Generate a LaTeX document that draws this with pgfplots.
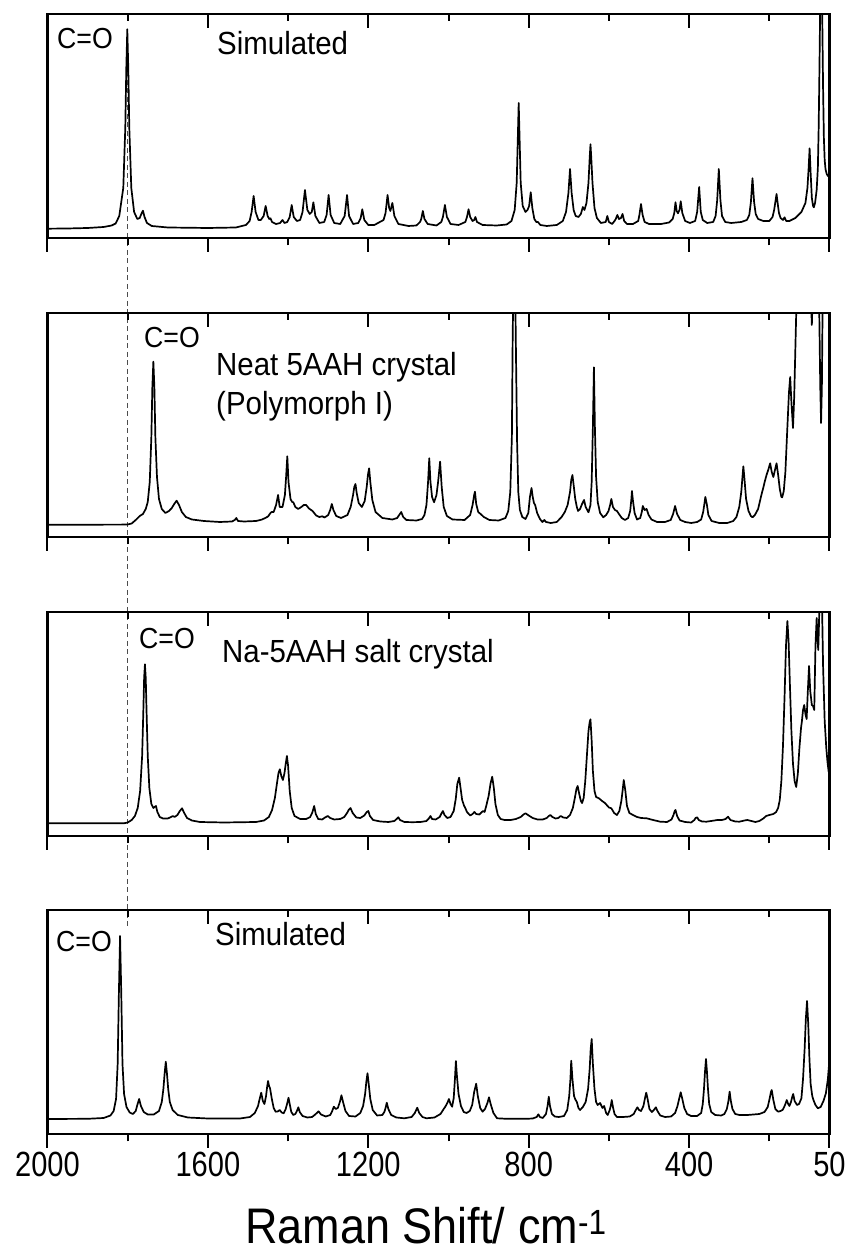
\documentclass[border=0pt]{standalone}
\usepackage{fontspec}
\setmainfont{Liberation Sans}
\newfontfamily\ticksans[FakeStretch=0.83]{Liberation Sans}
\newfontfamily\annsans[FakeStretch=0.92]{Liberation Sans}
\newfontfamily\labsans[FakeStretch=0.9]{Liberation Sans}
\usepackage{pgfplots}
\pgfplotsset{compat=1.18}
\pgfplotsset{
  panel/.style={
    scale only axis, width=782pt, height=224pt,
    x dir=reverse, xmin=50, xmax=2000, ymin=0, ymax=224,
    xtick={50,400,800,1200,1600,2000},
    minor xtick={200,600,1000,1400,1800},
    xtick pos=left, tick align=outside,
    ytick=\empty,
    major tick length=14pt, minor tick length=7.5pt,
    every tick/.style={black, line width=2pt},
    axis line style={line width=2.4pt},
    xticklabels={},
    anchor=south west,
  },
  toppanel/.style={
    scale only axis, width=782pt, height=224pt,
    x dir=reverse, xmin=50, xmax=2000, ymin=0, ymax=224,
    xtick={50,400,800,1200,1600,2000},
    minor xtick={200,600,1000,1400,1800},
    xtick pos=right, tick align=inside,
    ytick=\empty,
    major tick length=14pt, minor tick length=7.5pt,
    every tick/.style={black, line width=2pt},
    axis line style={draw=none},
    xticklabels={},
    anchor=south west,
  },
  spec/.style={black, line width=1.7pt, line join=round, mark=none},
}
\begin{document}
\begin{tikzpicture}[x=1pt,y=1pt]
\path[use as bounding box] (0,0) rectangle (851,1254);
\draw[gray!60!black, line width=1pt, dash pattern=on 5pt off 3.5pt] (127.7,1225) -- (127.7,327);

% Panel 1
\begin{axis}[panel, at={(47.5pt,1016pt)}]
\addplot[spec] coordinates {(2000,9.3)(1950,9.5)(1900,10)(1860,11)(1840,12.5)(1830,14.5)(1821,22)(1811,50)(1806,110)(1803.5,169)(1801,208.7)(1798.5,169)(1796,110)(1791,50)(1784,26)(1776,19)(1770,20)(1766,24)(1762,27.3)(1758,21)(1752,15)(1740,12)(1700,10.5)(1600,10)(1530,10.5)(1505,13)(1496,17)(1491,26)(1486,42)(1481,26)(1474,18)(1468,18)(1461,22)(1456,32)(1451,22)(1447,19)(1444,19.7)(1440,16)(1430,14)(1420,15)(1414,18)(1409,15)(1402,16)(1396,21)(1391,33)(1386,21)(1378,17)(1370,18)(1364,26)(1358,48)(1352,28)(1346,24)(1341,26)(1337,35.7)(1332,22)(1322,15)(1310,16)(1304,23)(1299,43)(1294,23)(1285,15)(1270,14)(1259,22)(1253,43)(1248,22)(1238,14)(1225,15)(1219,20)(1215,28.7)(1210,18)(1200,13)(1185,13)(1162,18)(1157,25)(1152,43)(1148,30)(1145,27)(1140,35)(1135,22)(1125,14)(1100,12)(1080,12.5)(1071,16)(1068,19)(1064,27)(1060,19)(1052,14)(1030,12.5)(1018,16)(1014,21)(1009,33)(1004,21)(995,14)(975,13)(958,16)(954,21)(950,28.7)(946,21)(940,17)(936,18)(933,21)(929,16)(915,13)(880,12.5)(855,13.5)(843,17)(835,28)(830,55)(827.5,95)(825,135)(822.5,95)(820,55)(815,32)(808,26)(803,28)(799,32)(795,45.7)(791,30)(786,19)(781,16)(777,16)(771,13)(755,12)(730,13)(715,17)(707,26)(701,45)(697,69)(693,45)(688,28)(683,22)(676,21)(670,24)(665,31)(661,28)(656,35)(651,55)(648,80)(646,93.7)(644,80)(641,55)(636,30)(630,20)(620,15)(608,16)(604,22)(600,16)(592,14)(586,17)(583,19)(579,23)(575,19)(570,20)(566,24)(562,17)(555,14)(540,14)(527,17)(524,23)(520,34)(516,23)(511,16)(500,14)(470,14)(450,15.5)(441,19)(437,25)(434,35.7)(431,27)(428,24.7)(424,28)(421,36.7)(417,25)(410,17)(398,15)(385,17)(380,26)(375,51)(371,26)(366,18)(355,15)(340,16)(334,22)(330,38)(326,69)(322,38)(318,22)(310,16)(295,15)(270,16)(256,18)(250,23)(246,36)(242,59.7)(238,36)(234,24)(228,19)(215,17)(200,17)(192,21)(188,28)(185,36)(182,44)(179,34)(176,25)(172,20)(166,18)(162,20.7)(158,17)(150,17)(135,20)(120,26)(110,35)(105,50)(102,70)(99.6,89.7)(97,65)(94,40)(91,32)(89,30.7)(86,35)(82,48)(79,70)(77,110)(75,170)(73,240)(70,250)(68,220)(66,150)(64,100)(62,78)(60,69)(57,64)(54,62)(53,62)};
\end{axis}
\begin{axis}[toppanel, at={(47.5pt,1016pt)}]
\end{axis}

% Panel 2
\begin{axis}[panel, at={(47.5pt,717pt)}]
\addplot[spec] coordinates {(2000,12.3)(1900,12.3)(1810,12.4)(1800,12.5)(1790,13.5)(1780,17)(1770,21)(1762,23)(1755,28)(1750,35)(1745,55)(1741,100)(1738.5,150)(1736,175.3)(1733.5,150)(1731,100)(1727,60)(1722,38)(1715,28)(1706,24)(1697,26)(1690,29)(1684,33)(1678,36.3)(1672,32)(1665,25)(1655,20)(1640,17.5)(1610,16)(1570,15)(1540,15.5)(1533,17)(1529,19)(1525,16)(1510,15.5)(1480,16)(1465,17.5)(1457,19)(1450,20.5)(1444,24)(1441,25)(1436,25)(1430,32)(1425,42)(1421,30)(1414,30)(1408,42)(1405,60)(1402,80.7)(1399,55)(1394,38)(1390,35)(1387,34.7)(1382,30)(1375,28)(1367,30)(1361,32)(1355,32)(1348,28.5)(1339,26)(1330,21.5)(1322,20)(1315,20.7)(1309,19.5)(1300,22)(1295,27)(1291,33)(1287,27)(1280,21)(1268,19)(1252,22)(1244,30)(1238,42)(1235,50)(1232,53)(1229,44)(1224,34)(1216,30)(1209,36)(1204,50)(1201,62)(1198,68.7)(1195,55)(1190,37)(1182,25)(1165,19)(1140,17.5)(1128,19)(1123,22)(1118,25)(1113,20)(1105,17)(1080,16.5)(1066,18)(1060,22)(1055,32)(1051,55)(1048,78.7)(1045,55)(1041,40)(1036,34.7)(1030,42)(1026,55)(1021,75.3)(1017,50)(1012,30)(1004,21)(990,17.5)(960,17)(946,22)(940,32)(936,42)(934,45.3)(931,33)(926,25)(920,23)(912,20)(898,17)(875,16.5)(858,19)(851,26)(846,45)(842,100)(840,200)(838,260)(834,260)(832,190)(829,95)(826,45)(822,27)(816,20)(808,18)(801,24)(797,40)(793,49)(790,40)(787,34)(784,32)(779,24)(772,18)(766,15)(761,17)(757,15)(745,14)(730,15)(718,20)(710,25)(703,32)(697,45)(694,57)(691,62)(688,52)(684,38)(680,30)(677,26)(672,28)(667,33)(662,37)(658,30)(651,24.7)(646,32)(643,55)(640,110)(637.4,169.7)(635,110)(632,60)(628,35)(622,24)(614,19.7)(607,22)(601,26)(597,32)(594,38)(590,30)(585,27)(580,26)(575,23)(568,19)(560,17)(552,19)(547,26)(544,38)(542.6,46)(540,36)(536,24)(530,17.5)(522,19)(518,25)(515.5,31)(511,27)(506,28)(501,22)(494,17.5)(480,15)(460,15)(446,17)(440,23)(435,31)(430,23)(422,17)(410,15)(395,14)(380,15)(370,17.5)(365,25)(362,33)(359.6,40)(356,33)(352,22)(344,16)(325,14)(305,14)(290,16)(282,20)(275,30)(270,45)(267,60)(264.8,70.7)(262,58)(258,38)(252,26)(246,21)(242,19.7)(236,22)(228,28)(221,40)(214.7,50)(211,56)(207,62)(202,68)(198,73.7)(194,65)(190,60)(186,67)(182,73.7)(178,62)(174,48)(170,40)(168,39.7)(164,46)(160,65)(155,110)(151,145)(148,160)(145,135)(141,109)(138,140)(135,190)(132,240)(100,240)(96,235)(94,212)(92,240)(76,240)(73,150)(71,114)(69,150)(67,240)(50,240)};
\end{axis}
\begin{axis}[toppanel, at={(47.5pt,717pt)}]
\end{axis}

% Panel 3
\begin{axis}[panel, at={(47.5pt,418pt)}]
\addplot[spec] coordinates {(2000,12.7)(1900,12.7)(1810,12.7)(1800,13.5)(1790,16)(1782,20)(1775,28)(1769,45)(1764,80)(1761,125)(1759,158)(1757,171.7)(1755,158)(1753,125)(1750,80)(1746,48)(1741,32)(1736,28)(1733,29)(1729.5,30)(1726,24)(1720,19)(1712,17.5)(1700,17.5)(1692,19)(1687.5,20)(1683,19)(1676,21)(1670,25)(1664.5,27.7)(1659,23)(1652,18)(1640,15.5)(1620,14)(1560,13.5)(1480,14)(1460,15.5)(1448,19)(1440,26)(1433,38)(1428,52)(1424,63)(1420.6,66.7)(1417,60)(1413,56)(1409,63)(1406,72)(1403,80)(1400,70)(1396,45)(1391,28)(1384,20)(1370,17)(1355,17)(1345,19)(1340,23)(1335,30)(1331,22)(1325,17)(1315,16.5)(1308,18.5)(1301,20)(1295,18)(1285,16.5)(1270,17)(1260,19)(1253,23)(1249,26)(1244.5,28)(1239,23)(1230,18.5)(1220,18)(1210,20.5)(1204,24)(1200,25)(1196,20)(1188,16)(1170,14.5)(1150,14)(1135,15)(1128,17.5)(1125,18.7)(1121,16)(1110,14)(1090,13.8)(1070,14)(1055,15)(1049,17.5)(1045,20)(1041,17)(1032,16.5)(1022,19)(1017,23)(1014,25)(1010,21)(1003,18)(995,19)(987,25)(982,37)(978,52)(973.5,58.3)(970,48)(966,36)(961,30)(959,28.7)(954,24)(946,20.5)(940,22)(935.5,24)(931,22)(923,21.5)(918,23.5)(914,25)(910,24)(906,30)(900,40)(895,53)(891,59.3)(887,48)(883,32)(877,21)(870,17)(860,16)(845,16)(832,17)(820,19)(813,21.5)(808,22.7)(800,20.5)(790,18)(778,16.5)(765,16.5)(755,18)(750,20)(746,21)(741,19)(733,17.5)(726,18)(722,19.5)(720,20)(714,18.5)(705,18)(697,21)(690,28)(685,38)(681,47)(678,50)(674,42)(670,35)(667,33)(663,38)(659,55)(655,80)(651,105)(648,114)(646,116.7)(643,95)(640,65)(636,45)(632,39)(625,37.7)(617,35)(610,33)(600,28.5)(594,27.7)(587,23)(580,21)(574,25)(569,35)(566,45)(563,56)(559,45)(555,30)(549,23)(540,21)(530,19)(520,18)(506,17.7)(490,16)(472,14.3)(455,14)(444,16.5)(439,21)(436,25)(434,26)(430,20)(424,15.5)(410,14)(395,13.5)(387,16)(384,18)(380,18.7)(376,16)(368,14.5)(357,14.3)(345,15)(337,15.5)(330,16)(318,16)(309,17)(303,19.3)(297,16)(285,14.5)(275,14.3)(262,15.5)(255,16)(245,15)(235,14)(225,15)(215,17.5)(208,20)(200,21)(190,22)(183,24)(178,28)(174,36)(170,55)(166,90)(162,140)(158.5,190)(155,215)(152,195)(149,155)(145,105)(141,72)(137,55)(133,49)(129,62)(125,88)(121,108)(119,114)(116,126)(113,131)(110,122)(107,117)(104,145)(101,170)(98,145)(94,131)(91,130)(88,126)(85,190)(82,218)(80,198)(78,186)(76,215)(75,240)(69,240)(66,170)(62,115)(58,88)(55,74)(52,64)};
\end{axis}
\begin{axis}[toppanel, at={(47.5pt,418pt)}]
\end{axis}

% Panel 4
\begin{axis}[panel, at={(47.5pt,120pt)},
  xticklabels={50,400,800,1200,1600,2000},
  /pgf/number format/assume math mode=true,
  xticklabel style={font=\ticksans\fontsize{35}{38}\selectfont, yshift=-1pt}]
\addplot[spec] coordinates {(2000,15)(1900,15.2)(1860,16)(1843,18.5)(1835,23)(1829,35)(1825,70)(1822,140)(1819,198)(1816,140)(1813,70)(1809,40)(1803,27)(1795,21.5)(1787,20)(1780,23)(1776,29)(1771.5,35)(1767,28)(1760,22)(1750,19.5)(1735,19.5)(1722,23)(1715,32)(1711,45)(1708,60)(1705,72.3)(1702,60)(1699,45)(1695,32)(1688,24)(1675,19)(1650,16.5)(1600,15.5)(1520,15.5)(1495,17)(1483,21)(1475,28)(1471,35)(1467,41.3)(1463,33)(1459,30)(1455,38)(1452,48)(1450,53)(1447.5,48)(1445,45.7)(1441,36)(1436,26)(1431,22.3)(1426,22.5)(1421,24)(1416,21.5)(1411,20.7)(1406,25)(1402,31)(1399,36.3)(1396,30)(1392,22)(1387,19)(1382,20)(1378,23)(1374.5,26.7)(1371,22)(1364,18)(1352,16.5)(1340,17)(1331,20)(1324,22.7)(1318,19.5)(1306,17.5)(1295,19)(1290,23)(1286,27.3)(1281,25)(1276,26)(1271,32)(1267,38.7)(1263,32)(1257,23)(1248,18)(1232,17.5)(1220,21)(1213,28)(1208,40)(1205,52)(1202,60.7)(1199,50)(1195,35)(1189,24)(1178,18.5)(1165,19)(1160,22)(1157,26)(1154,31.3)(1150,25)(1143,19)(1130,16.5)(1110,15.7)(1092,17)(1084,21)(1078,26.3)(1073,21)(1065,17)(1055,15.7)(1035,16.5)(1020,20)(1012,25)(1008,27.3)(1003,31)(999,35)(995,30)(991,27.3)(987,36)(984,55)(981.6,73)(979,58)(975,40)(969,28)(962,22)(955,21)(947,23)(941,29)(936,42)(931,50.3)(927,38)(921,26)(915,22.3)(909,25)(903,31)(899,36.7)(895,30)(888,21)(879,15.7)(860,15.3)(800,15.3)(790,15.5)(780,17)(776,19.7)(772,17)(765,16)(757,20)(753,28)(750,37.3)(747,28)(742,20)(735,17.5)(725,17)(712,18)(704,24)(699,38)(696,55)(694,73.3)(691,55)(687,38)(684,34.7)(680,32)(676,26)(672,24)(665,27)(658,32)(652,45)(648,65)(645.5,85)(643,95)(640,70)(636,45)(632,32)(628,29)(622,31)(616,26)(612,28)(607,21)(603,19)(598,24)(595,29)(593,34)(590,27)(586,20)(580,17)(565,17)(548,17.5)(538,20)(533,24)(529,26.7)(525,24)(520,23)(514,28)(510,36)(507,41.3)(504,36)(499,25)(493,22)(488,24)(483,26.7)(479,23)(472,18.5)(460,17)(445,17.5)(435,21)(429,28)(425,35)(421,41.7)(417,35)(412,26)(405,20)(395,18)(380,18)(370,21)(366,30)(363,45)(360.5,62)(358,75)(355.5,62)(353,45)(350,30)(345,22)(335,19)(320,18.5)(312,20)(306,25)(302,33)(299,42.3)(296,33)(292,25)(285,20)(275,19)(255,19)(240,19.5)(225,20)(212,22)(204,27)(199,36)(196,42)(194,44)(190,34)(185,25)(178,22.3)(172,23)(167,24)(162,28)(159,31)(156.6,34)(153,30)(150,28)(146,32)(143,37)(140.5,40)(137,33)(131,29)(126,30)(120,35.7)(116,55)(112,85)(109,115)(106,133)(103,110)(100,75)(97,50)(93,38)(90,34)(85,29)(79,25.7)(72,27)(65,33)(59,40.7)(54,55)(50,75)};
\end{axis}
\begin{axis}[toppanel, at={(47.5pt,120pt)}]
\end{axis}

% Annotations
\node[anchor=base west, inner sep=0pt, font=\annsans\fontsize{29}{32}\selectfont] at (57,1205) {C=O};
\node[anchor=base west, inner sep=0pt, font=\annsans\fontsize{32}{36}\selectfont] at (217,1199) {Simulated};
\node[anchor=base west, inner sep=0pt, font=\annsans\fontsize{29}{32}\selectfont] at (144,906) {C=O};
\node[anchor=base west, inner sep=0pt, font=\annsans\fontsize{32}{36}\selectfont] at (216,878) {Neat 5AAH crystal};
\node[anchor=base west, inner sep=0pt, font=\annsans\fontsize{32}{36}\selectfont] at (216,839) {(Polymorph I)};
\node[anchor=base west, inner sep=0pt, font=\annsans\fontsize{29}{32}\selectfont] at (139,605) {C=O};
\node[anchor=base west, inner sep=0pt, font=\annsans\fontsize{32}{36}\selectfont] at (222,591) {Na-5AAH salt crystal};
\node[anchor=base west, inner sep=0pt, font=\annsans\fontsize{29}{32}\selectfont] at (56,302) {C=O};
\node[anchor=base west, inner sep=0pt, font=\annsans\fontsize{32}{36}\selectfont] at (215,308) {Simulated};
\node[anchor=base, inner sep=0pt, font=\labsans\fontsize{50}{54}\selectfont] at (426,10) {Raman Shift/ cm\textsuperscript{-1}};
\end{tikzpicture}
\end{document}
